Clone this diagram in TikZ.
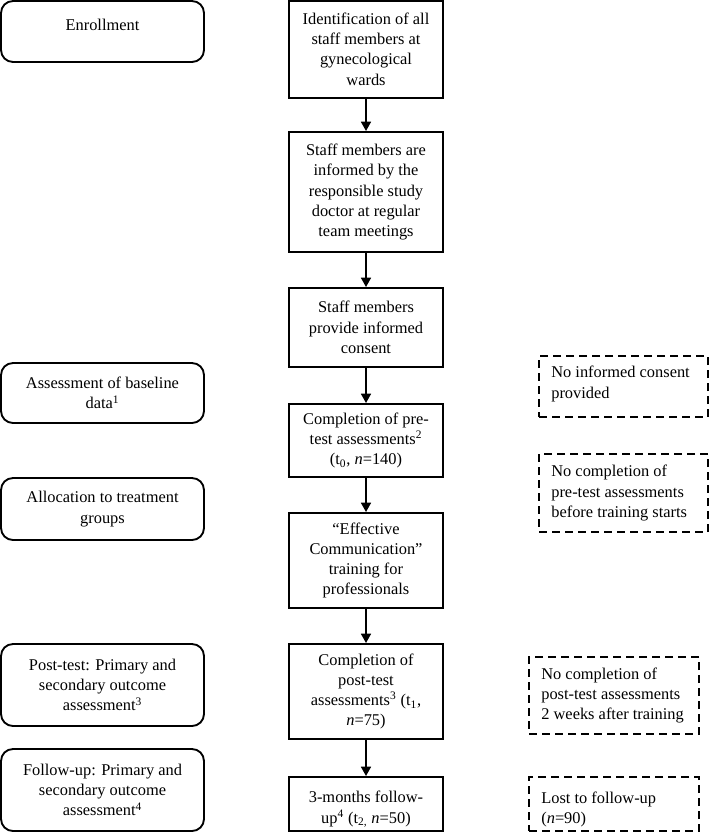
\documentclass[tikz,border=0pt]{standalone}
\usepackage{fontspec}
\setmainfont{Liberation Serif}
\usetikzlibrary{arrows.meta}
\begin{document}
\begin{tikzpicture}[x=0.75pt,y=-0.75pt,
  txt/.style={font=\fontsize{12.3pt}{15.2pt}\selectfont, inner sep=0pt},
  cbox/.style={txt, draw, line width=1.5pt, align=center, minimum width=115.5pt},
  lbox/.style={txt, draw, line width=1.4pt, rounded corners=9pt, align=center, minimum width=152.25pt},
  dbox/.style={draw, line width=1.4pt, dash pattern=on 6pt off 3.75pt, inner sep=0pt},
  dtext/.style={txt, align=left, anchor=west},
  arr/.style={line width=1.2pt, -{Triangle[length=7pt,width=7.5pt]}}
]
\useasboundingbox (0,0) rectangle (709,832);

% centre column
\node[cbox, minimum height=72.75pt] (ident) at (366,49) {Identification of all\\staff members at\\gynecological\\wards};
\node[cbox, minimum height=90pt] (inform) at (366,192) {Staff members are\\informed by the\\responsible study\\doctor at regular\\team meetings};
\node[cbox, minimum height=59.25pt] (consent) at (366,327.5) {Staff members\\provide informed\\consent};
\node[cbox, minimum height=54.75pt] (pre) at (366,440.5) {Completion of pre-\\test assessments\textsuperscript{2}\\(t\textsubscript{0}, \textit{n}=140)};
\node[cbox, minimum height=71.25pt] (train) at (366,560.5) {“Effective\\Communication”\\training for\\professionals};
\node[cbox, minimum height=71.25pt] (post) at (366,691.5) {Completion of\\post-test\\assessments\textsuperscript{3} (t\textsubscript{1},\\\textit{n}=75)};
\node[cbox, minimum height=40.5pt] (fu) at (366,804) {};
\node[txt, align=center] (futext) at ([yshift=-4pt]fu.center) {3-months follow-\\up\textsuperscript{4} (t\textsubscript{2,} \textit{n}=50)};

\draw[arr] (ident) -- (inform);
\draw[arr] (inform) -- (consent);
\draw[arr] (consent) -- (pre);
\draw[arr] (pre) -- (train);
\draw[arr] (train) -- (post);
\draw[arr] (post) -- (fu);

% left column
\node[lbox, minimum height=45.75pt] (enroll) at (102.5,31.5) {};
\node[txt] (enrolltext) at ([yshift=5pt]enroll.center) {Enrollment};
\node[lbox, minimum height=45pt] (base) at (102.5,393) {Assessment of baseline\\data\textsuperscript{1}};
\node[lbox, minimum height=46.5pt] (alloc) at (102.5,509) {Allocation to treatment\\groups};
\node[lbox, minimum height=61.5pt] (postl) at (102.5,685) {Post-test: Primary and\\secondary outcome\\assessment\textsuperscript{3}};
\node[lbox, minimum height=61.5pt] (ful) at (102.5,790) {Follow-up: Primary and\\secondary outcome\\assessment\textsuperscript{4}};

% right column
\node[dbox, minimum width=126.75pt, minimum height=45.75pt] (d1) at (623.5,386.5) {};
\node[dtext] (d1t) at ([xshift=9.75pt,yshift=2pt]d1.west) {No informed consent\\provided};
\node[dbox, minimum width=126.75pt, minimum height=58.5pt] (d2) at (623.5,493) {};
\node[dtext] (d2t) at ([xshift=9.75pt]d2.west) {No completion of\\pre-test assessments\\before training starts};
\node[dbox, minimum width=127.5pt, minimum height=57.75pt] (d3) at (614,695.5) {};
\node[dtext] (d3t) at ([xshift=9.75pt]d3.west) {No completion of\\post-test assessments\\2 weeks after training};
\node[dbox, minimum width=127.5pt, minimum height=40.5pt] (d4) at (614,804) {};
\node[dtext] (d4t) at ([xshift=9.75pt,yshift=-4pt]d4.west) {Lost to follow-up\\(\textit{n}=90)};
\end{tikzpicture}
\end{document}
